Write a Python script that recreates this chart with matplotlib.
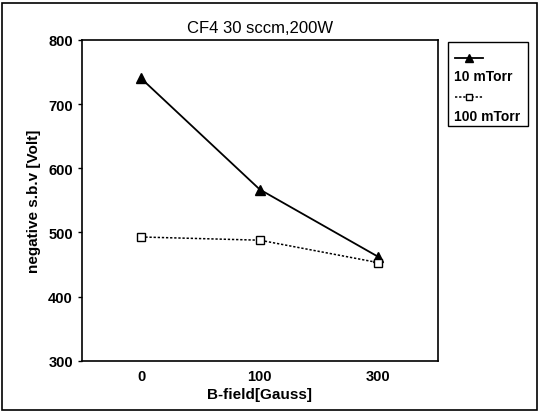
import matplotlib.pyplot as plt
from matplotlib.lines import Line2D
from matplotlib.patches import Rectangle

plt.rcParams['font.family'] = ['Liberation Sans', 'DejaVu Sans']

# data
b_field = ['0', '100', '300']
sbv_10mtorr = [740, 567, 462]
sbv_100mtorr = [493, 488, 453]
series_names = ['10 mTorr', '100 mTorr']

fig = plt.figure(figsize=(5.39, 4.14), dpi=100)
ax = fig.add_axes([0.152, 0.126, 0.660, 0.775])

x = range(len(b_field))
ax.plot(x, sbv_10mtorr, color='black', lw=1.3, marker='^', ms=7,
        mfc='black', mec='black')
ax.plot(x, sbv_100mtorr, color='black', lw=1.1, ls=(0, (1.5, 1.2)), marker='s', ms=6,
        mfc='white', mec='black', mew=1.0)

ax.set_xlim(-0.5, 2.5)
ax.set_ylim(300, 800)
ax.set_xticks(list(x))
ax.set_xticklabels(b_field)
ax.set_yticks([300, 400, 500, 600, 700, 800])
ax.tick_params(axis='both', direction='out', length=3, width=1, labelsize=10.5)
ax.tick_params(axis='x', length=0, pad=6)
for lab in ax.get_xticklabels() + ax.get_yticklabels():
    lab.set_fontweight('bold')
for s in ax.spines.values():
    s.set_linewidth(1.2)

ax.set_title('CF4 30 sccm,200W', fontsize=12, pad=6)
ax.set_xlabel('B-field[Gauss]', fontsize=11, fontweight='bold', labelpad=3)
ax.set_ylabel('negative s.b.v [Volt]', fontsize=11, fontweight='bold', labelpad=5)

# legend box: marker line above each label
W, H = 539, 414
def fx(px):
    return px / W
def fy(py):
    return 1 - py / H

fig.add_artist(Rectangle((fx(448), fy(127)), fx(528) - fx(448), fy(43) - fy(127),
                         transform=fig.transFigure, fill=False, lw=1.0, ec='black'))
fig.add_artist(Line2D([fx(455), fx(483)], [fy(59), fy(59)], transform=fig.transFigure,
                      color='black', lw=1.3))
fig.add_artist(Line2D([fx(469)], [fy(59)], transform=fig.transFigure,
                      color='black', marker='^', ms=6, mfc='black', ls='none'))
fig.add_artist(Line2D([fx(455), fx(483)], [fy(98), fy(98)], transform=fig.transFigure,
                      color='black', lw=1.1, ls=(0, (1.5, 1.2))))
fig.add_artist(Line2D([fx(469)], [fy(98)], transform=fig.transFigure,
                      color='black', marker='s', ms=5, mfc='white', mec='black', ls='none'))
fig.text(fx(454), fy(77), series_names[0], fontsize=10, fontweight='bold', va='center')
fig.text(fx(454), fy(117), series_names[1], fontsize=10, fontweight='bold', va='center')

# outer frame
fig.add_artist(Rectangle((fx(2), fy(411)), fx(537) - fx(2), fy(4) - fy(411),
                         transform=fig.transFigure, fill=False, lw=1.2, ec='black'))

fig.savefig('out.png', dpi=100)
